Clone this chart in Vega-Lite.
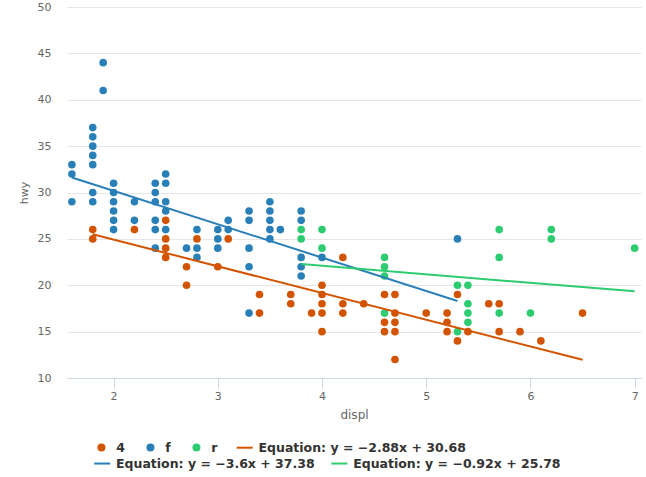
{
  "$schema": "https://vega.github.io/schema/vega-lite/v6.json",
  "width": 574,
  "height": 371,
  "autosize": {"type": "none"},
  "padding": {"left": 67, "top": 7, "right": 5, "bottom": 99},
  "config": {
    "font": "DejaVu Sans",
    "view": {"stroke": null}
  },
  "datasets": {
    "points": [
      {"displ": 1.8, "hwy": 26, "series": "4"}, {"displ": 1.8, "hwy": 25, "series": "4"},
      {"displ": 2.2, "hwy": 26, "series": "4"},
      {"displ": 2.5, "hwy": 27, "series": "4"}, {"displ": 2.5, "hwy": 25, "series": "4"}, {"displ": 2.5, "hwy": 24, "series": "4"}, {"displ": 2.5, "hwy": 23, "series": "4"},
      {"displ": 2.7, "hwy": 22, "series": "4"}, {"displ": 2.7, "hwy": 20, "series": "4"},
      {"displ": 2.8, "hwy": 25, "series": "4"},
      {"displ": 3.0, "hwy": 22, "series": "4"},
      {"displ": 3.1, "hwy": 25, "series": "4"},
      {"displ": 3.4, "hwy": 19, "series": "4"}, {"displ": 3.4, "hwy": 17, "series": "4"},
      {"displ": 3.7, "hwy": 19, "series": "4"}, {"displ": 3.7, "hwy": 18, "series": "4"},
      {"displ": 3.9, "hwy": 17, "series": "4"},
      {"displ": 4.0, "hwy": 20, "series": "4"}, {"displ": 4.0, "hwy": 19, "series": "4"}, {"displ": 4.0, "hwy": 18, "series": "4"}, {"displ": 4.0, "hwy": 17, "series": "4"}, {"displ": 4.0, "hwy": 15, "series": "4"},
      {"displ": 4.2, "hwy": 23, "series": "4"}, {"displ": 4.2, "hwy": 18, "series": "4"}, {"displ": 4.2, "hwy": 17, "series": "4"},
      {"displ": 4.4, "hwy": 18, "series": "4"},
      {"displ": 4.6, "hwy": 19, "series": "4"}, {"displ": 4.6, "hwy": 16, "series": "4"}, {"displ": 4.6, "hwy": 15, "series": "4"},
      {"displ": 4.7, "hwy": 19, "series": "4"}, {"displ": 4.7, "hwy": 17, "series": "4"}, {"displ": 4.7, "hwy": 16, "series": "4"}, {"displ": 4.7, "hwy": 15, "series": "4"}, {"displ": 4.7, "hwy": 12, "series": "4"},
      {"displ": 5.0, "hwy": 17, "series": "4"},
      {"displ": 5.2, "hwy": 17, "series": "4"}, {"displ": 5.2, "hwy": 16, "series": "4"}, {"displ": 5.2, "hwy": 15, "series": "4"},
      {"displ": 5.3, "hwy": 19, "series": "4"}, {"displ": 5.3, "hwy": 14, "series": "4"},
      {"displ": 5.4, "hwy": 15, "series": "4"},
      {"displ": 5.6, "hwy": 18, "series": "4"},
      {"displ": 5.7, "hwy": 18, "series": "4"}, {"displ": 5.7, "hwy": 15, "series": "4"},
      {"displ": 5.9, "hwy": 15, "series": "4"},
      {"displ": 6.1, "hwy": 14, "series": "4"},
      {"displ": 6.5, "hwy": 17, "series": "4"},
      {"displ": 1.6, "hwy": 33, "series": "f"}, {"displ": 1.6, "hwy": 32, "series": "f"}, {"displ": 1.6, "hwy": 29, "series": "f"},
      {"displ": 1.8, "hwy": 37, "series": "f"}, {"displ": 1.8, "hwy": 36, "series": "f"}, {"displ": 1.8, "hwy": 35, "series": "f"}, {"displ": 1.8, "hwy": 34, "series": "f"}, {"displ": 1.8, "hwy": 33, "series": "f"}, {"displ": 1.8, "hwy": 30, "series": "f"}, {"displ": 1.8, "hwy": 29, "series": "f"},
      {"displ": 1.9, "hwy": 44, "series": "f"}, {"displ": 1.9, "hwy": 41, "series": "f"},
      {"displ": 2.0, "hwy": 31, "series": "f"}, {"displ": 2.0, "hwy": 30, "series": "f"}, {"displ": 2.0, "hwy": 29, "series": "f"}, {"displ": 2.0, "hwy": 28, "series": "f"}, {"displ": 2.0, "hwy": 27, "series": "f"}, {"displ": 2.0, "hwy": 26, "series": "f"},
      {"displ": 2.2, "hwy": 29, "series": "f"}, {"displ": 2.2, "hwy": 27, "series": "f"},
      {"displ": 2.4, "hwy": 31, "series": "f"}, {"displ": 2.4, "hwy": 30, "series": "f"}, {"displ": 2.4, "hwy": 29, "series": "f"}, {"displ": 2.4, "hwy": 27, "series": "f"}, {"displ": 2.4, "hwy": 26, "series": "f"}, {"displ": 2.4, "hwy": 24, "series": "f"},
      {"displ": 2.5, "hwy": 32, "series": "f"}, {"displ": 2.5, "hwy": 31, "series": "f"}, {"displ": 2.5, "hwy": 29, "series": "f"}, {"displ": 2.5, "hwy": 28, "series": "f"}, {"displ": 2.5, "hwy": 26, "series": "f"},
      {"displ": 2.7, "hwy": 24, "series": "f"},
      {"displ": 2.8, "hwy": 26, "series": "f"}, {"displ": 2.8, "hwy": 24, "series": "f"}, {"displ": 2.8, "hwy": 23, "series": "f"},
      {"displ": 3.0, "hwy": 26, "series": "f"}, {"displ": 3.0, "hwy": 25, "series": "f"}, {"displ": 3.0, "hwy": 24, "series": "f"},
      {"displ": 3.1, "hwy": 27, "series": "f"}, {"displ": 3.1, "hwy": 26, "series": "f"},
      {"displ": 3.3, "hwy": 28, "series": "f"}, {"displ": 3.3, "hwy": 27, "series": "f"}, {"displ": 3.3, "hwy": 24, "series": "f"}, {"displ": 3.3, "hwy": 22, "series": "f"}, {"displ": 3.3, "hwy": 17, "series": "f"},
      {"displ": 3.5, "hwy": 29, "series": "f"}, {"displ": 3.5, "hwy": 28, "series": "f"}, {"displ": 3.5, "hwy": 27, "series": "f"}, {"displ": 3.5, "hwy": 26, "series": "f"}, {"displ": 3.5, "hwy": 25, "series": "f"},
      {"displ": 3.6, "hwy": 26, "series": "f"},
      {"displ": 3.8, "hwy": 28, "series": "f"}, {"displ": 3.8, "hwy": 27, "series": "f"}, {"displ": 3.8, "hwy": 23, "series": "f"}, {"displ": 3.8, "hwy": 22, "series": "f"}, {"displ": 3.8, "hwy": 21, "series": "f"},
      {"displ": 4.0, "hwy": 23, "series": "f"},
      {"displ": 5.3, "hwy": 25, "series": "f"},
      {"displ": 3.8, "hwy": 26, "series": "r"}, {"displ": 3.8, "hwy": 25, "series": "r"},
      {"displ": 4.0, "hwy": 26, "series": "r"}, {"displ": 4.0, "hwy": 24, "series": "r"},
      {"displ": 4.6, "hwy": 23, "series": "r"}, {"displ": 4.6, "hwy": 22, "series": "r"}, {"displ": 4.6, "hwy": 21, "series": "r"}, {"displ": 4.6, "hwy": 17, "series": "r"},
      {"displ": 5.3, "hwy": 20, "series": "r"}, {"displ": 5.3, "hwy": 15, "series": "r"},
      {"displ": 5.4, "hwy": 20, "series": "r"}, {"displ": 5.4, "hwy": 18, "series": "r"}, {"displ": 5.4, "hwy": 17, "series": "r"}, {"displ": 5.4, "hwy": 16, "series": "r"},
      {"displ": 5.7, "hwy": 26, "series": "r"}, {"displ": 5.7, "hwy": 23, "series": "r"}, {"displ": 5.7, "hwy": 17, "series": "r"},
      {"displ": 6.0, "hwy": 17, "series": "r"},
      {"displ": 6.2, "hwy": 26, "series": "r"}, {"displ": 6.2, "hwy": 25, "series": "r"},
      {"displ": 7.0, "hwy": 24, "series": "r"}
    ],
    "line1": [
      {"displ": 1.8, "hwy": 25.5, "series": "Equation: y = −2.88x + 30.68"},
      {"displ": 6.5, "hwy": 11.96, "series": "Equation: y = −2.88x + 30.68"}
    ],
    "line23": [
      {"displ": 1.6, "hwy": 31.62, "series": "Equation: y = −3.6x + 37.38"},
      {"displ": 5.3, "hwy": 18.3, "series": "Equation: y = −3.6x + 37.38"},
      {"displ": 3.8, "hwy": 22.28, "series": "Equation: y = −0.92x + 25.78"},
      {"displ": 7.0, "hwy": 19.34, "series": "Equation: y = −0.92x + 25.78"}
    ]
  },
  "layer": [
    {
      "data": {"name": "points"},
      "mark": {"type": "point", "filled": true, "opacity": 1, "size": 58},
      "encoding": {
        "x": {
          "field": "displ", "type": "quantitative",
          "scale": {"domain": [1.553, 7.061], "nice": false, "zero": false},
          "axis": {
            "values": [2, 3, 4, 5, 6, 7], "format": "d", "grid": false, "zindex": 1,
            "domainColor": "#ccd6eb", "tickColor": "#ccd6eb", "tickSize": 10,
            "labelPadding": 2, "labelColor": "#666666", "labelFontSize": 11, "labelFlush": false,
            "title": "displ", "titleFontWeight": "normal", "titleColor": "#666666", "titleFontSize": 12, "titlePadding": 8
          }
        },
        "y": {
          "field": "hwy", "type": "quantitative",
          "scale": {"domain": [10, 50], "nice": false, "zero": false},
          "axis": {
            "values": [10, 15, 20, 25, 30, 35, 40, 45, 50], "grid": true, "gridColor": "#e6e6e6",
            "domain": false, "ticks": false, "tickSize": 0, "labelPadding": 16,
            "labelColor": "#666666", "labelFontSize": 11,
            "title": "hwy", "titleFontWeight": "normal", "titleColor": "#666666", "titleFontSize": 11, "titlePadding": 8
          }
        },
        "fill": {
          "field": "series", "type": "nominal",
          "scale": {
            "domain": ["4", "f", "r"],
            "range": ["#d35400", "#2980b9", "#2ecc71"]
          },
          "legend": {
            "title": null, "orient": "none", "legendX": 28.2, "legendY": 434.2,
            "direction": "horizontal",
            "columnPadding": 19, "padding": 0,
            "symbolType": "circle", "symbolSize": 64, "symbolStrokeWidth": 0, "symbolOpacity": 1,
            "labelFontSize": 12.5, "labelFontWeight": "bold", "labelColor": "#333333",
            "labelLimit": 400, "labelOffset": 8.5
          }
        }
      }
    },
    {
      "data": {"name": "line1"},
      "mark": {"type": "line", "strokeWidth": 2},
      "encoding": {
        "x": {"field": "displ", "type": "quantitative"},
        "y": {"field": "hwy", "type": "quantitative"},
        "color": {
          "field": "series", "type": "nominal",
          "scale": {
            "domain": ["Equation: y = −2.88x + 30.68"],
            "range": ["#d35400"]
          },
          "legend": {
            "title": null, "orient": "none", "legendX": 168.7, "legendY": 431.7,
            "direction": "horizontal",
            "columnPadding": 20, "padding": 0,
            "symbolSize": 256, "symbolStrokeWidth": 2, "symbolType": "stroke",
            "labelFontSize": 12.5, "labelFontWeight": "bold", "labelColor": "#333333",
            "labelLimit": 400, "labelOffset": 4.8
          }
        }
      }
    },
    {
      "data": {"name": "line23"},
      "mark": {"type": "line", "strokeWidth": 2},
      "encoding": {
        "x": {"field": "displ", "type": "quantitative"},
        "y": {"field": "hwy", "type": "quantitative"},
        "stroke": {
          "field": "series", "type": "nominal",
          "scale": {
            "domain": ["Equation: y = −3.6x + 37.38", "Equation: y = −0.92x + 25.78"],
            "range": ["#2980b9", "#2ecc71"]
          },
          "legend": {
            "title": null, "orient": "none", "legendX": 26.2, "legendY": 447.3,
            "direction": "horizontal",
            "columnPadding": 12.2, "padding": 0,
            "symbolSize": 256, "symbolStrokeWidth": 2, "symbolType": "stroke",
            "labelFontSize": 12.5, "labelFontWeight": "bold", "labelColor": "#333333",
            "labelLimit": 400, "labelOffset": 4.8
          }
        }
      }
    }
  ]
}
